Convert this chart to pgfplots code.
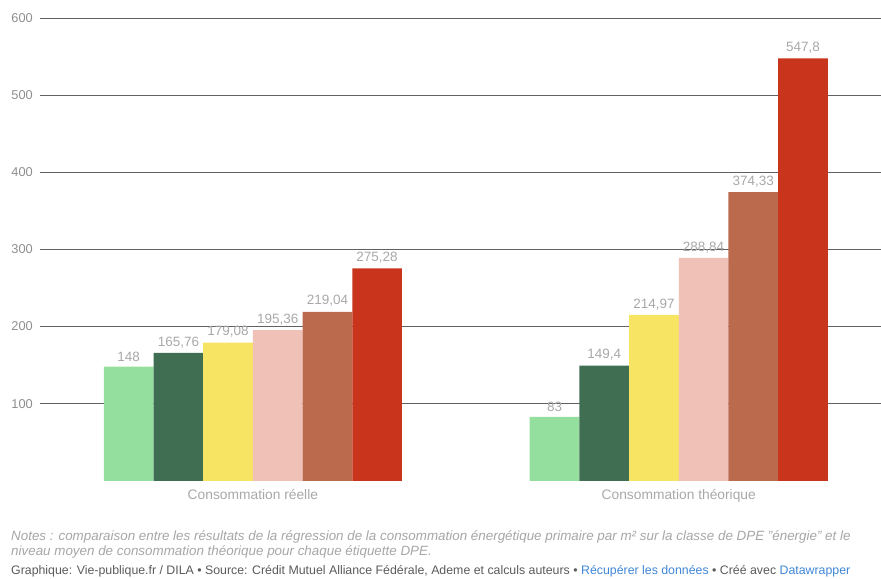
\documentclass[border=0pt]{standalone}
\usepackage{pgfplots}
\pgfplotsset{compat=1.18}
\usepackage{fontspec}
\setmainfont{Liberation Sans}
\definecolor{cA}{HTML}{95DF9E}
\definecolor{cB}{HTML}{3F6E52}
\definecolor{cC}{HTML}{F7E463}
\definecolor{cD}{HTML}{F0C1B6}
\definecolor{cE}{HTML}{BC6A4E}
\definecolor{cF}{HTML}{C9341D}
\definecolor{lbl}{HTML}{A8A8A8}
\definecolor{tick}{HTML}{8E8E8E}
\definecolor{note}{HTML}{A6A6A6}
\definecolor{foot}{HTML}{5A5A5A}
\definecolor{link}{HTML}{3F86D6}
\begin{document}
\begin{tikzpicture}[x=1pt,y=1pt]
\begin{axis}[
  at={(0,0)}, anchor=south west,
  scale only axis, width=841pt, height=463pt,
  xmin=-0.5, xmax=1.474, ymin=0, ymax=600,
  ybar=0pt, bar width=49.7pt,
  axis line style={draw=none},
  major tick length=0pt,
  ytick={100,200,300,400,500,600},
  ymajorgrids, grid style={black!62, line width=0.8pt},
  xtick={0,1}, xticklabels={Consommation réelle, Consommation théorique},
  /pgf/number format/assume math mode=true,
  yticklabel style={font=\fontsize{12.8}{15}\selectfont, text=tick, anchor=east, inner sep=0pt, xshift=-7pt},
  xticklabel style={font=\fontsize{13.8}{16}\selectfont, text=lbl, anchor=north, inner sep=0pt, yshift=-8pt},
  point meta=explicit symbolic,
  nodes near coords,
  every node near coord/.append style={font=\fontsize{13.5}{16}\selectfont, text=lbl, anchor=south, inner sep=0pt, yshift=5pt},
  every axis plot/.append style={draw=none},
]
\addplot[fill=cA] coordinates {(0,148) [148] (1,83) [83]};
\addplot[fill=cB] coordinates {(0,165.76) [165,76] (1,149.4) [149,4]};
\addplot[fill=cC] coordinates {(0,179.08) [179,08] (1,214.97) [214,97]};
\addplot[fill=cD] coordinates {(0,195.36) [195,36] (1,288.84) [288,84]};
\addplot[fill=cE] coordinates {(0,219.04) [219,04] (1,374.33) [374,33]};
\addplot[fill=cF] coordinates {(0,275.28) [275,28] (1,547.8) [547,8]};
\end{axis}
\node[anchor=base west, inner sep=0pt, text=note, font=\fontsize{13.4}{15}\selectfont\itshape] at (-29,-60) {Notes : comparaison entre les résultats de la régression de la consommation énergétique primaire par m² sur la classe de DPE "énergie" et le};
\node[anchor=base west, inner sep=0pt, text=note, font=\fontsize{13.4}{15}\selectfont\itshape] at (-29,-75) {niveau moyen de consommation théorique pour chaque étiquette DPE.};
\node[anchor=base west, inner sep=0pt, text=foot, font=\fontsize{12.35}{14}\selectfont] at (-29,-94) {Graphique: Vie-publique.fr / DILA • Source: Crédit Mutuel Alliance Fédérale, Ademe et calculs auteurs • \textcolor{link}{Récupérer les données} • Créé avec \textcolor{link}{Datawrapper}};
\path[use as bounding box] (-40,-98) rectangle (841,481);
\end{tikzpicture}
\end{document}
